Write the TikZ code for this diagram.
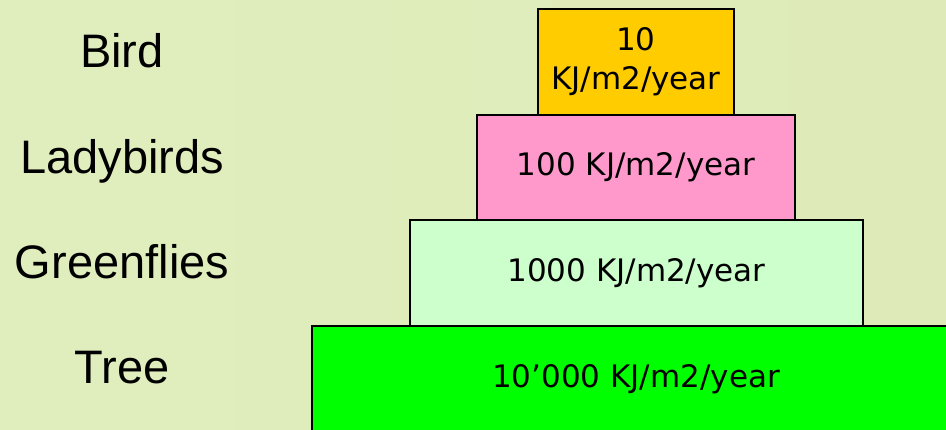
\documentclass[tikz,border=0pt]{standalone}
\usepackage{fontspec}
\setmainfont{Liberation Sans}
\newfontfamily\boxfont{DejaVu Sans}
\definecolor{bgL}{RGB}{224,238,190}
\definecolor{bgM}{RGB}{232,244,200}
\definecolor{bgR}{RGB}{222,235,184}
\definecolor{birdc}{RGB}{255,204,0}
\definecolor{ladyc}{RGB}{255,153,204}
\definecolor{flyc}{RGB}{204,255,204}
\definecolor{treec}{RGB}{0,255,0}
\tikzset{
  level/.style={draw=black, line width=2.5pt, inner sep=0pt, align=center,
    font=\boxfont\fontsize{31}{39}\selectfont},
  organism/.style={anchor=base, font=\fontsize{47}{50}\selectfont}
}
\begin{document}
\begin{tikzpicture}[x=1pt, y=-1pt]
  \useasboundingbox (0,0) rectangle (946,429);
  \clip (0,0) rectangle (946,429);
  % pale green backdrop
  \shade[left color=bgL, middle color=bgM, right color=bgR] (0,0) rectangle (946,429);

  % energy levels, top to bottom
  \node[level, fill=birdc, minimum width=196pt, minimum height=106pt] (bird) at (636,62) {10\\KJ/m2/year};
  \node[level, fill=ladyc, minimum width=318pt, minimum height=105pt] (lady) at (636,167.5) {100 KJ/m2/year};
  \node[level, fill=flyc, minimum width=453pt, minimum height=107pt] (fly) at (636.5,273.5) {1000 KJ/m2/year};
  \node[level, fill=treec, minimum width=648pt, minimum height=106pt] (tree) at (636,379) {10’000 KJ/m2/year};

  % organism names
  \node[organism] (lbird) at (122,67) {Bird};
  \node[organism] (llady) at (122,173) {Ladybirds};
  \node[organism] (lfly) at (122,278) {Greenflies};
  \node[organism] (ltree) at (122,383) {Tree};
\end{tikzpicture}
\end{document}
